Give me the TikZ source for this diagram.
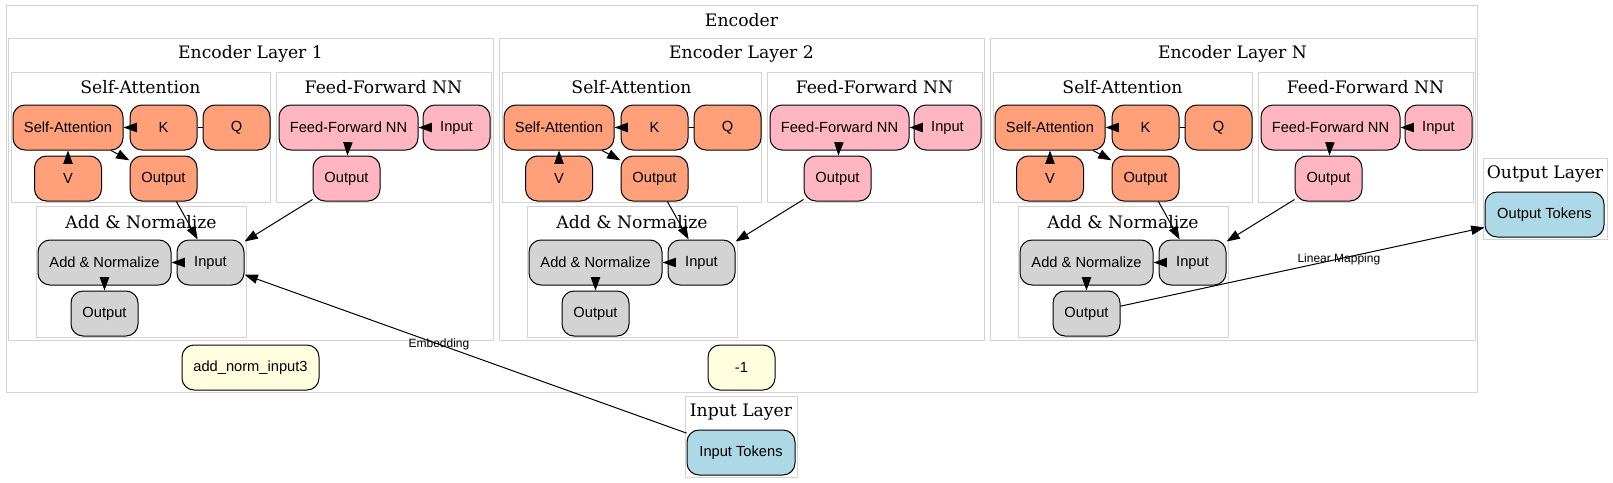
\documentclass[tikz,border=0pt]{standalone}
\usepackage{fontspec}
\setmainfont{Liberation Sans}
\newfontfamily\titlefont{DejaVu Serif}
\usetikzlibrary{arrows.meta,positioning}
\definecolor{attn}{HTML}{FFA07A}
\definecolor{ffwd}{HTML}{FFB6C1}
\definecolor{addnorm}{HTML}{D3D3D3}
\definecolor{tokens}{HTML}{ADD8E6}
\definecolor{stray}{HTML}{FFFFE0}
\definecolor{frame}{HTML}{D3D3D3}
\tikzset{
    %Define standard arrow tip
    >={Triangle[length=10pt,width=7pt]},
    %Define style for boxes
    block/.style={
        rectangle,
        rounded corners=9pt,
        draw=black, line width=0.75pt,
        inner sep=0pt,
        minimum width=50.25pt,
        minimum height=33.75pt,
        font=\fontsize{11}{13}\selectfont,
        text centered
    },
    attnbox/.style={block, fill=attn},
    ffwdbox/.style={block, fill=ffwd},
    normbox/.style={block, fill=addnorm},
    tokenbox/.style={block, fill=tokens},
    straybox/.style={block, fill=stray},
    % Define cluster style
    cluster/.style={draw=frame, line width=0.75pt},
    clustertitle/.style={font=\titlefont\fontsize{12.9}{15}\selectfont, inner sep=0pt},
    % Define arrow style
    link/.style={->, line width=0.75pt},
    linklabel/.style={font=\fontsize{9}{11}\selectfont, inner sep=0pt}
}
\begin{document}
\begin{tikzpicture}[x=0.75pt,y=-0.75pt]
    \useasboundingbox (0,0) rectangle (1613,482);
    % encoder
    \draw[cluster] (6,5) rectangle (1477,392);
    \node[clustertitle] (enctitle) at (741.5,20) {Encoder};
    \foreach \off/\name/\id in {0/1/a,491/2/b,982/N/c}{
    \begin{scope}[xshift=\off*0.75pt]
        \draw[cluster] (8,38) rectangle (493,340);
        \node[clustertitle] (lt\id) at (250.5,54) {Encoder Layer \name};
        % self-attention
        \draw[cluster] (11,72) rectangle (270,202);
        \node[clustertitle] (sat\id) at (140.5,87) {Self-Attention};
        \node[attnbox, minimum width=82.5pt] (sa\id) at (68,127.5) {Self-Attention};
        \node[attnbox, right=4.5pt of sa\id] (k\id) {K};
        \node[attnbox, right=3.75pt of k\id] (q\id) {Q};
        \node[attnbox, below=3.75pt of sa\id] (v\id) {V};
        \node[attnbox, below=3.75pt of k\id] (sao\id) {Output};
        % feed-forward
        \draw[cluster] (276,72) rectangle (491,202);
        \node[clustertitle] (fft\id) at (383.5,87) {Feed-Forward NN};
        \node[ffwdbox, minimum width=104.25pt] (ff\id) at (348.5,127.5) {Feed-Forward NN};
        \node[ffwdbox, right=3pt of ff\id] (ffi\id) {Input};
        \node[ffwdbox, below=3.75pt of ff\id, xshift=-1.5pt] (ffo\id) {Output};
        % add & normalize
        \draw[cluster] (36,206) rectangle (246,337);
        \node[clustertitle] (ant\id) at (141,222) {Add \& Normalize};
        \node[normbox, minimum width=99.75pt] (an\id) at (104.5,262.5) {Add \& Normalize};
        \node[normbox, right=3.75pt of an\id] (ani\id) {Input};
        \node[normbox, below=3.75pt of an\id] (ano\id) {Output};
        \draw[line width=0.75pt] (q\id) -- (k\id);
        \path[link]
        (k\id) edge (sa\id)
        (v\id) edge (sa\id)
        (sa\id) edge (sao\id)
        (ffi\id) edge (ff\id)
        (ff\id) edge (ffo\id)
        (sao\id) edge (ani\id)
        (ffo\id) edge (ani\id)
        (ani\id) edge (an\id)
        (an\id) edge (ano\id);
    \end{scope}
    }
    \node[straybox, minimum width=102.75pt] (addnorm3) at (250.5,367.5) {add\_norm\_input3};
    \node[straybox] (minusone) at (741.5,367.5) {-1};
    % input layer
    \draw[cluster] (685,396) rectangle (797,477);
    \node[clustertitle] (intitle) at (741,412) {Input Layer};
    \node[tokenbox, minimum width=81pt] (intok) at (741,452.5) {Input Tokens};
    % output layer
    \draw[cluster] (1483,158) rectangle (1607,239);
    \node[clustertitle] (outtitle) at (1545,174) {Output Layer};
    \node[tokenbox, minimum width=89.25pt] (outtok) at (1544.5,214.5) {Output Tokens};
    \draw[link] (intok) -- node[linklabel, pos=0.56] {Embedding} (ania);
    \draw[link] (anoc) -- node[linklabel, pos=0.6] {Linear Mapping} (outtok);
\end{tikzpicture}
\end{document}
